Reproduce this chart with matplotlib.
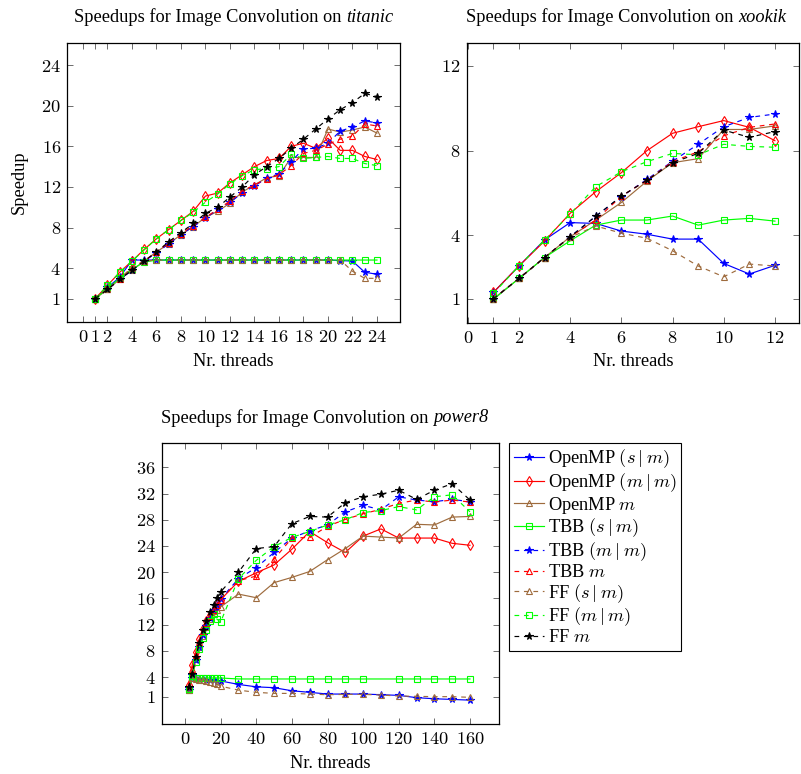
import matplotlib
matplotlib.use('Agg')
import matplotlib.pyplot as plt
import numpy as np

plt.rcParams['font.family'] = ['Liberation Serif', 'DejaVu Serif']
plt.rcParams['mathtext.fontset'] = 'cm'
FS = 13.2

# ---------------- data ----------------
series_names = ["OpenMP $(s\\mid m)$", "OpenMP $(m\\mid m)$", "OpenMP $m$",
                "TBB $(s\\mid m)$", "TBB $(m\\mid m)$", "TBB $m$",
                "FF $(s\\mid m)$", "FF $(m\\mid m)$", "FF $m$"]

# titanic
ti_x = list(range(1, 25))
ti_omp_sm = [1.0, 2.1, 3.1, 4.8, 4.8, 4.8, 4.8, 4.8, 4.8, 4.8, 4.8, 4.8, 4.8, 4.8, 4.8, 4.8, 4.8, 4.8, 4.8, 4.8, 4.75, 4.7, 3.6, 3.4]
ti_omp_mm = [1.0, 2.3, 3.6, 4.7, 5.85, 6.9, 7.8, 8.7, 9.6, 11.1, 11.4, 12.4, 13.2, 14.0, 14.6, 14.8, 16.0, 16.3, 15.8, 16.8, 15.6, 15.6, 15.0, 14.7]
ti_omp_m = [1.0, 1.9, 2.9, 3.8, 4.7, 5.6, 6.4, 7.3, 8.1, 9.0, 9.6, 10.4, 11.5, 12.2, 12.9, 13.1, 14.9, 14.9, 14.9, 17.7, 17.4, 17.6, 17.9, 17.3]
ti_tbb_sm = [1.0, 2.0, 3.0, 3.9, 4.6, 4.8, 4.8, 4.8, 4.8, 4.8, 4.8, 4.8, 4.8, 4.8, 4.8, 4.8, 4.8, 4.8, 4.8, 4.8, 4.8, 4.8, 4.8, 4.8]
ti_tbb_mm = [1.0, 1.9, 2.9, 3.8, 4.7, 5.5, 6.4, 7.3, 8.1, 8.9, 9.8, 10.5, 11.4, 12.1, 12.85, 13.3, 14.5, 15.75, 15.8, 16.3, 17.5, 17.9, 18.5, 18.3]
ti_tbb_m = [1.0, 1.9, 2.9, 4.1, 4.7, 5.6, 6.5, 7.4, 8.2, 9.0, 9.8, 10.6, 11.6, 12.2, 12.8, 13.2, 14.1, 15.3, 15.6, 16.2, 16.7, 17.0, 18.2, 18.0]
ti_ff_sm = [1.0, 1.9, 3.0, 4.0, 4.7, 4.8, 4.8, 4.8, 4.8, 4.8, 4.8, 4.8, 4.8, 4.8, 4.8, 4.8, 4.8, 4.8, 4.8, 4.8, 4.8, 3.7, 3.0, 3.0]
ti_ff_mm = [1.0, 2.3, 3.6, 4.7, 5.8, 6.9, 7.8, 8.7, 9.5, 10.5, 11.3, 12.3, 13.1, 13.7, 13.8, 14.0, 15.2, 14.8, 14.9, 15.0, 14.8, 14.8, 14.3, 14.1]
ti_ff_m = [1.0, 1.9, 2.9, 3.8, 4.7, 5.6, 6.6, 7.5, 8.4, 9.4, 10.0, 11.0, 12.0, 13.2, 14.0, 14.8, 15.8, 16.7, 17.7, 18.7, 19.6, 20.3, 21.2, 20.9]

# xookik
xo_x = list(range(1, 13))
xo_omp_sm = [1.3, 2.55, 3.78, 4.6, 4.56, 4.2, 4.05, 3.82, 3.82, 2.67, 2.17, 2.58]
xo_omp_mm = [1.3, 2.55, 3.73, 5.04, 6.06, 6.96, 8.0, 8.82, 9.13, 9.42, 9.1, 8.47]
xo_omp_m = [1.0, 1.96, 2.95, 3.93, 4.72, 5.55, 6.56, 7.43, 7.62, 9.0, 9.0, 9.17]
xo_tbb_sm = [0.97, 1.96, 2.95, 3.74, 4.48, 4.72, 4.72, 4.91, 4.48, 4.72, 4.8, 4.67]
xo_tbb_mm = [1.0, 1.96, 2.95, 3.93, 4.9, 5.83, 6.64, 7.5, 8.3, 9.13, 9.57, 9.73]
xo_tbb_m = [1.0, 1.96, 2.95, 3.93, 4.72, 5.85, 6.6, 7.48, 7.95, 8.7, 9.1, 9.26]
xo_ff_sm = [1.0, 1.96, 2.95, 3.9, 4.44, 4.1, 3.86, 3.27, 2.55, 2.04, 2.64, 2.55]
xo_ff_mm = [1.25, 2.55, 3.78, 5.0, 6.3, 7.0, 7.48, 7.87, 7.8, 8.3, 8.2, 8.16]
xo_ff_m = [1.0, 1.96, 2.95, 3.93, 4.9, 5.85, 6.6, 7.43, 7.87, 8.97, 8.63, 8.9]

# power8
p8_x = [2, 4, 6, 8, 10, 12, 14, 16, 18, 20, 30, 40, 50, 60, 70, 80, 90, 100, 110, 120, 130, 140, 150, 160]
p8_x_tbb_sm = [2, 4, 6, 8, 10, 12, 14, 16, 18, 20, 30, 40, 50, 60, 70, 80, 90, 100, 120, 130, 140, 150, 160]
p8_omp_sm = [2.0, 3.8, 3.75, 3.7, 3.65, 3.6, 3.55, 3.5, 3.45, 3.4, 2.87, 2.5, 2.37, 1.9, 1.66, 1.4, 1.4, 1.4, 1.3, 1.2, 0.85, 0.68, 0.58, 0.47]
p8_omp_mm = [2.8, 5.8, 7.8, 9.8, 11.3, 12.5, 13.4, 14.2, 15.1, 15.8, 18.6, 19.9, 21.1, 23.5, 26.2, 24.5, 23.0, 25.5, 26.6, 25.2, 25.2, 25.2, 24.4, 24.1]
p8_omp_m = [2.3, 4.6, 6.8, 8.6, 10.3, 11.7, 12.9, 14.0, 14.3, 14.7, 16.65, 16.1, 18.4, 19.2, 20.1, 21.9, 23.6, 25.5, 25.35, 25.2, 27.3, 27.2, 28.4, 28.5]
p8_tbb_sm = [2.0, 3.85, 3.85, 3.85, 3.85, 3.85, 3.85, 3.85, 3.85, 3.85, 3.7, 3.7, 3.7, 3.7, 3.7, 3.7, 3.7, 3.7, 3.7, 3.7, 3.7, 3.7, 3.7]
p8_tbb_mm = [2.3, 4.3, 6.6, 8.6, 10.4, 11.8, 13.0, 14.2, 15.0, 15.9, 19.0, 20.7, 23.0, 25.2, 26.3, 27.2, 29.2, 30.2, 29.5, 31.5, 31.0, 30.75, 31.1, 30.75]
p8_tbb_m = [2.6, 5.2, 7.3, 9.4, 11.0, 12.3, 13.3, 14.3, 15.0, 15.8, 18.7, 19.4, 22.0, 25.2, 25.3, 27.0, 28.05, 28.9, 29.6, 30.5, 31.0, 30.7, 31.0, 30.7]
p8_ff_sm = [2.0, 3.8, 3.7, 3.6, 3.5, 3.4, 3.3, 3.1, 2.9, 2.6, 2.0, 1.66, 1.5, 1.5, 1.4, 1.3, 1.35, 1.35, 1.25, 1.1, 1.05, 1.0, 1.0, 0.9]
p8_ff_mm = [2.1, 4.1, 6.3, 8.2, 9.9, 11.2, 12.5, 13.6, 12.8, 12.4, 19.0, 21.8, 23.9, 25.3, 26.2, 27.2, 28.0, 29.1, 29.4, 30.0, 29.5, 31.5, 31.8, 29.2]
p8_ff_m = [2.4, 4.5, 7.0, 9.2, 11.2, 12.6, 13.9, 15.0, 16.1, 17.0, 20.0, 23.6, 23.9, 27.4, 28.5, 28.4, 30.6, 31.5, 31.9, 32.5, 31.1, 32.5, 33.5, 31.0]

ti_xticks = [0, 1, 2, 4, 6, 8, 10, 12, 14, 16, 18, 20, 22, 24]
ti_yticks = [1, 4, 8, 12, 16, 20, 24]
xo_xticks = [0, 1, 2, 4, 6, 8, 10, 12]
xo_yticks = [1, 4, 8, 12]
p8_xticks = [0, 20, 40, 60, 80, 100, 120, 140, 160]
p8_yticks = [1, 4, 8, 12, 16, 20, 24, 28, 32, 36]

# ---------------- styles ----------------
BROWN = (0.62, 0.42, 0.24)
GREEN = (0.0, 1.0, 0.0)
DASH = (0, (4, 4))
styles = [
    dict(color='blue', linestyle='-', marker='*', markersize=5.5, mfc='blue'),
    dict(color='red', linestyle='-', marker='d', markersize=5, mfc='none'),
    dict(color=BROWN, linestyle='-', marker='^', markersize=4.5, mfc='none'),
    dict(color=GREEN, linestyle='-', marker='s', markersize=4.5, mfc='none'),
    dict(color='blue', linestyle=DASH, marker='*', markersize=5.5, mfc='blue'),
    dict(color='red', linestyle=DASH, marker='^', markersize=4.5, mfc='none'),
    dict(color=BROWN, linestyle=DASH, marker='^', markersize=4.5, mfc='none'),
    dict(color=GREEN, linestyle=DASH, marker='s', markersize=4.5, mfc='none'),
    dict(color='black', linestyle=DASH, marker='*', markersize=5.5, mfc='black'),
]

W, H = 801, 774
fig = plt.figure(figsize=(W / 100, H / 100), dpi=100)


def axes_px(l, t, r, b):
    return fig.add_axes([l / W, 1 - b / H, (r - l) / W, (b - t) / H])


def style_axes(ax, xticks, yticks, xlim, ylim):
    ax.set_xlim(*xlim)
    ax.set_ylim(*ylim)
    ax.set_xticks(xticks)
    ax.set_xticklabels(['$%d$' % t for t in xticks], fontsize=FS)
    ax.set_yticks(yticks)
    ax.set_yticklabels(['$%d$' % t for t in yticks], fontsize=FS)
    ax.tick_params(direction='in', top=True, right=True, length=4, width=0.6,
                   color='#555555')
    ax.tick_params(axis='x', pad=5)
    ax.tick_params(axis='y', pad=4.5)
    for s in ax.spines.values():
        s.set_linewidth(0.9)


def plot_all(ax, xs_list, ys_list):
    handles = []
    for xs, ys, st in zip(xs_list, ys_list, styles):
        h, = ax.plot(xs, ys, linewidth=0.85, markeredgewidth=0.8, **st)
        handles.append(h)
    return handles


def two_part_title(cx, cy, normal, ital):
    t1 = fig.text(0, 0, normal, fontsize=FS, va='center', ha='left')
    t2 = fig.text(0, 0, ital, fontsize=FS, va='center', ha='left', style='italic')
    r = fig.canvas.get_renderer()
    w1 = t1.get_window_extent(r).width
    w2 = t2.get_window_extent(r).width
    x0 = cx - (w1 + w2) / 2
    t1.set_position((x0 / W, 1 - cy / H))
    t2.set_position(((x0 + w1) / W, 1 - cy / H))


# titanic
ax1 = axes_px(67.3, 42.7, 400, 322.3)
plot_all(ax1, [ti_x] * 9,
         [ti_omp_sm, ti_omp_mm, ti_omp_m, ti_tbb_sm, ti_tbb_mm, ti_tbb_m, ti_ff_sm, ti_ff_mm, ti_ff_m])
style_axes(ax1, ti_xticks, ti_yticks, (-1.28, 25.88), (-1.33, 26.2))

# xookik
ax2 = axes_px(466.5, 42.7, 799, 322.7)
plot_all(ax2, [xo_x] * 9,
         [xo_omp_sm, xo_omp_mm, xo_omp_m, xo_tbb_sm, xo_tbb_mm, xo_tbb_m, xo_ff_sm, xo_ff_mm, xo_ff_m])
style_axes(ax2, xo_xticks, xo_yticks, (-0.05, 12.94), (-0.13, 13.1))

# power8
ax3 = axes_px(161.7, 443.3, 499, 724)
xs3 = [p8_x, p8_x, p8_x, p8_x_tbb_sm, p8_x, p8_x, p8_x, p8_x, p8_x]
handles = plot_all(ax3, xs3,
                   [p8_omp_sm, p8_omp_mm, p8_omp_m, p8_tbb_sm, p8_tbb_mm, p8_tbb_m, p8_ff_sm, p8_ff_mm, p8_ff_m])
style_axes(ax3, p8_xticks, p8_yticks, (-13.1, 176.3), (-3.17, 39.66))

leg = fig.legend(handles, series_names, loc='upper left',
                 bbox_to_anchor=(509 / W, 1 - 443 / H), bbox_transform=fig.transFigure,
                 borderaxespad=0, fontsize=FS, handlelength=1.65, handletextpad=0.2,
                 borderpad=0.25, labelspacing=0.05, numpoints=1, fancybox=False,
                 framealpha=1, edgecolor='black')
leg.get_frame().set_linewidth(0.8)

# titles and labels
two_part_title(233.5, 17, "Speedups for Image Convolution on ", "titanic")
two_part_title(626, 17, "Speedups for Image Convolution on ", "xookik")
two_part_title(325, 418, "Speedups for Image Convolution on ", "power8")

fig.text(233.6 / W, 1 - 362 / H, "Nr. threads", fontsize=FS, ha='center', va='center')
fig.text(632.8 / W, 1 - 362 / H, "Nr. threads", fontsize=FS, ha='center', va='center')
fig.text(330 / W, 1 - 763 / H, "Nr. threads", fontsize=FS, ha='center', va='center')
fig.text(19 / W, 1 - 182.5 / H, "Speedup", fontsize=FS, ha='center', va='center', rotation=90)

fig.savefig('out.png', dpi=100)
